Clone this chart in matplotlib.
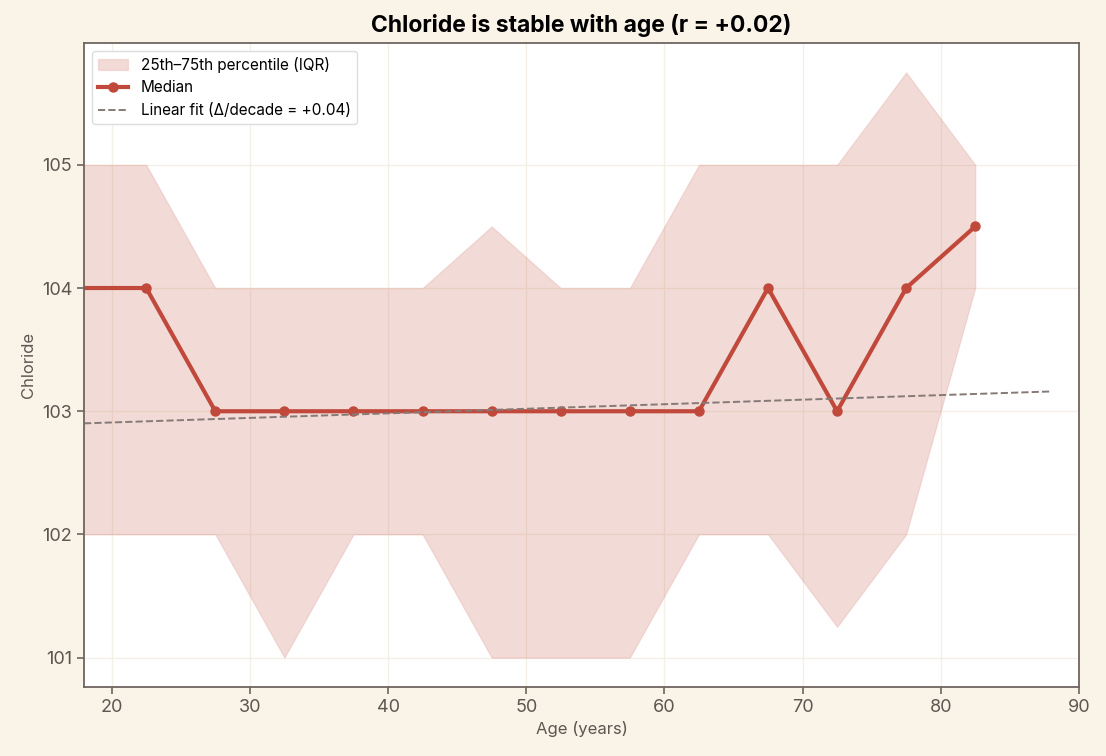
import matplotlib.pyplot as plt
import numpy as np

plt.rcParams['font.family'] = ['Inter', 'DejaVu Sans']

age_mid = [17.5, 22.5, 27.5, 32.5, 37.5, 42.5, 47.5, 52.5, 57.5, 62.5, 67.5, 72.5, 77.5, 82.5]
median = [104, 104, 103, 103, 103, 103, 103, 103, 103, 103, 104, 103, 104, 104.5]
q25 = [102, 102, 102, 101, 102, 102, 101, 101, 101, 102, 102, 101.25, 102, 104]
q75 = [105, 105, 104, 104, 104, 104, 104.5, 104, 104, 105, 105, 105, 105.75, 105]

fit_range = [18, 88]
fit_intercept = 102.835
fit_slope = 0.0037

bg = '#FAF3E8'
red = '#C0493B'
ink = '#5f5551'

fig = plt.figure(figsize=(11.06, 7.56), dpi=100, facecolor=bg)
ax = fig.add_axes([0.076, 0.0913, 0.8995, 0.8517])
ax.set_facecolor('white')

ax.fill_between(age_mid, q25, q75, facecolor=(0.753, 0.286, 0.231, 0.2),
                edgecolor=(0.753, 0.286, 0.231, 0.12), linewidth=1,
                label='25th\u201375th percentile (IQR)')
ax.plot(age_mid, median, color=red, lw=3, marker='o', ms=6.5, label='Median')
fx = np.array(fit_range)
ax.plot(fx, fit_intercept + fit_slope * fx, ls='--', color='#857a76', lw=1.4,
        label='Linear fit (\u0394/decade = +0.04)')

ax.set_xlim(18, 90)
ax.set_yticks([101, 102, 103, 104, 105])
ax.grid(True, color='#f5f0e6', lw=1)
ax.set_axisbelow(True)

for s in ax.spines.values():
    s.set_color('#6f6560')
    s.set_linewidth(1.3)
ax.tick_params(colors='#6f6560', labelcolor=ink, labelsize=13, length=5, width=1.2)

ax.set_xlabel('Age (years)', fontsize=12, color=ink)
ax.set_ylabel('Chloride', fontsize=12, color=ink)
ax.set_title('Chloride is stable with age (r = +0.02)', fontsize=16.5, fontweight='bold', pad=8)

leg = ax.legend(loc='upper left', fontsize=11, frameon=True, framealpha=1, edgecolor='#dddddd')

fig.savefig('out.png', dpi=100, facecolor=bg)
